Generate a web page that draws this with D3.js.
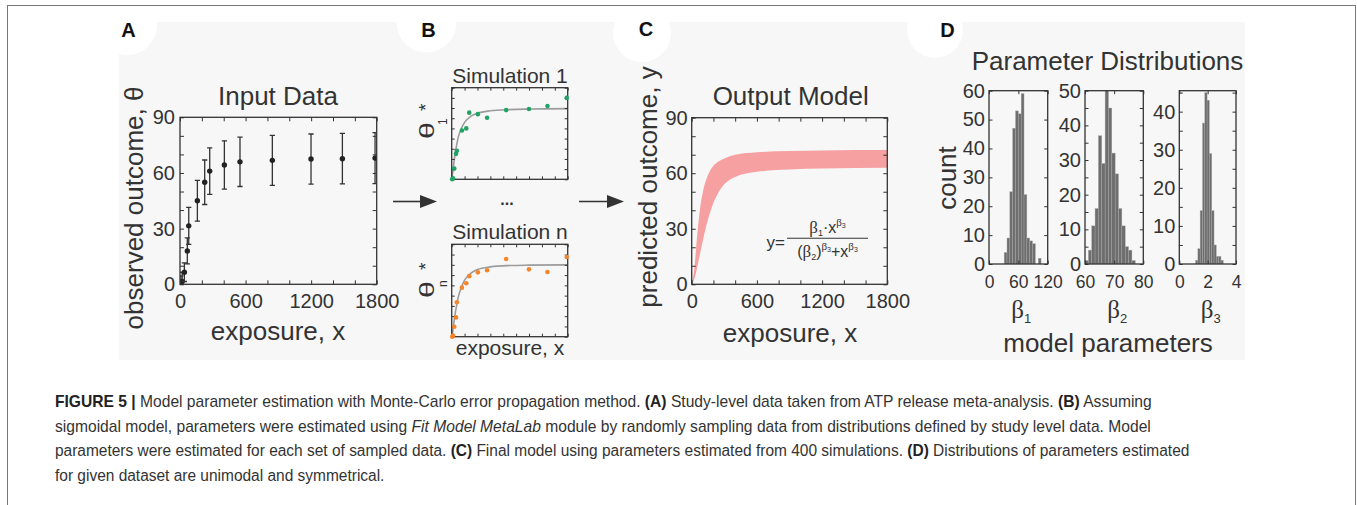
<!DOCTYPE html>
<html><head><meta charset="utf-8">
<script src="https://cdn.jsdelivr.net/npm/d3@7"></script>
<style>
html,body{margin:0;padding:0;background:#fff;}
svg{display:block;}
text{font-family:"Liberation Sans",Arial,Helvetica,sans-serif;fill:#333;}
</style></head><body>
<svg id="fig" width="1357" height="505"></svg>
<script>
// ---------------- data ----------------
const exposure = [8, 20, 40, 67, 80, 159, 226, 272, 406, 549, 845, 1199, 1486, 1785];
const observed = [0.5, 1.5, 6.5, 18, 31.5, 45, 55, 61, 64.3, 66, 66.8, 67.5, 67.7, 68];
const observedErr = [4, 5, 5, 7, 10, 11, 12, 12.5, 13, 13.3, 13.5, 13.5, 13.6, 13.7];

const sim1 = [0, 1, 10.5, 25, 28, 48, 50, 65.5, 64, 60.5, 68, 69, 72, 80];
const simN = [0, 1, 9.7, 18.8, 33.5, 47.8, 52, 59, 62.7, 64.7, 75.7, 65.6, 63, 77.7];

const fitX = [0, 15, 30, 50, 75, 100, 150, 200, 300, 400, 600, 900, 1200, 1800];
const fit1 = [0, 6, 14, 24, 33, 41, 50, 56, 62, 65, 67.3, 68.5, 69, 69.4];
const fitN = [0, 5, 12, 21, 30, 38, 48, 55, 62, 65.5, 68, 69.3, 69.7, 70];

const bandX = [0, 25, 50, 75, 100, 150, 200, 250, 300, 400, 600, 900, 1200, 1800];
const bandUpper = [0, 9, 26, 40, 49, 59, 64, 66.5, 68, 70, 71.3, 72, 72.3, 72.5];
const bandLower = [0, 3, 9, 16, 23, 35, 44, 50, 54, 58, 60.8, 62, 62.5, 63];

const binEdges1 = [31, 36.8, 42.6, 48.4, 54.2, 60, 65.8, 71.6, 77.4, 83.2, 89, 94.8, 100.6, 106.4];
const counts1 = [4, 9, 25, 47, 53, 52, 59, 24, 9, 8, 7, 0, 2];
const binEdges2 = [60, 61.15, 62.3, 63.45, 64.6, 65.75, 66.9, 68.05, 69.2, 70.35, 71.5, 72.65, 73.8, 74.95, 76.1, 77.25];
const counts2 = [1, 4, 11, 16, 37, 29, 50, 45, 32, 26, 16, 11, 5, 4, 1];
const binEdges3 = [1.15, 1.31, 1.47, 1.64, 1.8, 1.96, 2.12, 2.29, 2.45, 2.61, 2.77, 2.94, 3.1];
const counts3 = [1, 4, 14, 37, 45, 43, 29, 14, 5, 2, 2, 1];

const ticksExposure = [0, 200, 400, 600, 800, 1000, 1200, 1400, 1600, 1800];
const ticksOutcome = [0, 10, 20, 30, 40, 50, 60, 70, 80, 90];

const captionLines = [
  [["FIGURE 5 | ", "b"], ["Model parameter estimation with Monte-Carlo error propagation method. ", ""], ["(A)", "b"], [" Study-level data taken from ATP release meta-analysis. ", ""], ["(B)", "b"], [" Assuming", ""]],
  [["sigmoidal model, parameters were estimated using ", ""], ["Fit Model MetaLab", "i"], [" module by randomly sampling data from distributions defined by study level data. Model", ""]],
  [["parameters were estimated for each set of sampled data. ", ""], ["(C)", "b"], [" Final model using parameters estimated from 400 simulations. ", ""], ["(D)", "b"], [" Distributions of parameters estimated", ""]],
  [["for given dataset are unimodal and symmetrical.", ""]]
];

// ---------------- drawing ----------------
const INK = "#333";
const SERIF = "'Liberation Serif','Times New Roman',serif";
const svg = d3.select("#fig");

svg.append("rect").attr("x", 119).attr("y", 22).attr("width", 1126).attr("height", 338).attr("fill", "#f7f7f7");

const panelTags = [
  {t: "A", cx: 127, cy: 25, r: 30, lx: 128.5, ly: 37},
  {t: "B", cx: 426.5, cy: 22.5, r: 30, lx: 428.5, ly: 37},
  {t: "C", cx: 642, cy: 33, r: 29, lx: 646, ly: 36},
  {t: "D", cx: 935, cy: 30, r: 28, lx: 947.5, ly: 37}
];
panelTags.forEach(p => {
  svg.append("circle").attr("cx", p.cx).attr("cy", p.cy).attr("r", p.r).attr("fill", "#fff");
  svg.append("text").attr("x", p.lx).attr("y", p.ly).attr("text-anchor", "middle")
    .attr("font-size", 20).attr("font-weight", "bold").style("fill", "#111").text(p.t);
});
svg.append("rect").attr("x", 7.5).attr("y", 5.5).attr("width", 1348).attr("height", 520)
  .attr("fill", "none").attr("stroke", "#777").attr("stroke-width", 1);

function txt(x, y, s, fs, opt = {}) {
  const t = svg.append("text").attr("x", x).attr("y", y).attr("font-size", fs)
    .attr("text-anchor", opt.anchor || "middle").text(s);
  if (opt.rot) t.attr("transform", `rotate(-90,${x},${y})`);
  return t;
}

function frame(x, y, o) {
  const [x0, x1] = x.range();
  const y1 = y.range()[0], y0 = y.range()[1];
  const tk = o.tick || 4;
  const g = svg.append("g");
  const ax = (gen, tr, vals, fmt, pad, fs) => {
    const a = g.append("g").attr("transform", tr).style("color", INK)
      .call(gen.tickValues(vals).tickSizeInner(-tk).tickSizeOuter(0).tickPadding(pad).tickFormat(fmt));
    a.attr("font-size", fs || o.fs || 20);
    a.select(".domain").remove();
    a.selectAll(".tick line").attr("stroke-width", 1);
    return a;
  };
  const none = () => "";
  ax(d3.axisBottom(x), `translate(0,${y1})`, o.xt, o.xf || none, o.xpad || 9.5, o.xfs);
  ax(d3.axisTop(x), `translate(0,${y0})`, o.xt, none, 0);
  ax(d3.axisLeft(y), `translate(${x0},0)`, o.yt, o.yf || none, o.ypad || 5);
  ax(d3.axisRight(y), `translate(${x1},0)`, o.yt, none, 0);
  g.append("rect").attr("x", x0).attr("y", y0).attr("width", x1 - x0).attr("height", y1 - y0)
    .attr("fill", "none").attr("stroke", INK).attr("stroke-width", 1.3);
  return g;
}

let clipId = 0;
function clip(x, y) {
  const id = "c" + (clipId++);
  const [x0, x1] = x.range();
  svg.append("clipPath").attr("id", id).append("rect")
    .attr("x", x0).attr("y", y.range()[1]).attr("width", x1 - x0).attr("height", y.range()[0] - y.range()[1]);
  return svg.append("g").attr("clip-path", `url(#${id})`);
}

// ----- Panel A -----
const xA = d3.scaleLinear([0, 1800], [180, 376.7]);
const yA = d3.scaleLinear([0, 90], [284.3, 117.3]);
const gA = clip(xA, yA);
exposure.forEach((xv, i) => {
  const lo = yA(observed[i] - observedErr[i]), hi = yA(observed[i] + observedErr[i]), cx = xA(xv);
  gA.append("line").attr("x1", cx).attr("x2", cx).attr("y1", lo).attr("y2", hi).attr("stroke", INK).attr("stroke-width", 1.3);
  [lo, hi].forEach(yy => gA.append("line").attr("x1", cx - 2.6).attr("x2", cx + 2.6).attr("y1", yy).attr("y2", yy).attr("stroke", INK).attr("stroke-width", 1.3));
  gA.append("circle").attr("cx", cx).attr("cy", yA(observed[i])).attr("r", 2.7).attr("fill", "#222");
});
frame(xA, yA, {fs: 20, xt: ticksExposure, xf: d => d % 600 ? "" : d, yt: ticksOutcome, yf: d => d % 30 ? "" : d, xpad: 9.5, ypad: 5});
txt(278, 105, "Input Data", 26);
txt(278, 340, "exposure, x", 26);
txt(143, 208, "observed outcome, θ", 26, {rot: true});

// ----- Panel B -----
const xB = d3.scaleLinear([0, 1800], [451.7, 567.7]);
const yB1 = d3.scaleLinear([0, 90], [179.3, 87.7]);
const yB2 = d3.scaleLinear([0, 90], [336.7, 244.3]);
[[yB1, sim1, fit1, "#21a366"], [yB2, simN, fitN, "#f5842a"]].forEach(([yS, pts, fit, col]) => {
  const g = clip(xB, yS);
  g.append("path").datum(fitX.map((v, i) => [v, fit[i]]))
    .attr("d", d3.line().x(d => xB(d[0])).y(d => yS(d[1])).curve(d3.curveMonotoneX))
    .attr("fill", "none").attr("stroke", "#9c9c9c").attr("stroke-width", 1.6);
  frame(xB, yS, {tick: 3, xt: ticksExposure, yt: ticksOutcome});
  exposure.forEach((xv, i) => svg.append("circle").attr("cx", xB(xv)).attr("cy", yS(pts[i])).attr("r", 2.3).attr("fill", col));
});
txt(510, 82.7, "Simulation 1", 21);
txt(510, 239, "Simulation n", 21);
txt(510, 355, "exposure, x", 21);
txt(507, 205, "...", 16).attr("font-weight", "bold");
function thetaLabel(startY, sub, subY, starY) {
  svg.append("text").attr("transform", `translate(433.5,${startY}) rotate(-90) scale(1.45,1)`).attr("font-size", 21).text("θ");
  svg.append("text").attr("transform", `translate(432,${starY}) rotate(-90)`).attr("font-size", 19).text("*");
  svg.append("text").attr("transform", `translate(447,${subY}) rotate(-90)`).attr("font-size", 12).text(sub);
}
thetaLabel(139, "1", 125, 111);
thetaLabel(298, "n", 287, 270);

// arrows
function arrow(xs, xe, yy) {
  svg.append("line").attr("x1", xs).attr("x2", xe - 12).attr("y1", yy).attr("y2", yy).attr("stroke", INK).attr("stroke-width", 1.6);
  svg.append("path").attr("d", `M${xe - 17},${yy - 6.5}L${xe},${yy}L${xe - 17},${yy + 6.5}Z`).attr("fill", INK);
}
arrow(393, 437, 201.5);
arrow(579, 624, 201.5);

// ----- Panel C -----
const xC = d3.scaleLinear([0, 1800], [691.7, 887.3]);
const yC = d3.scaleLinear([0, 90], [284.3, 117.7]);
const gC = clip(xC, yC);
gC.append("path").datum(bandX.map((v, i) => [v, bandLower[i], bandUpper[i]]))
  .attr("d", d3.area().x(d => xC(d[0])).y0(d => yC(d[1])).y1(d => yC(d[2])).curve(d3.curveMonotoneX))
  .attr("fill", "#f6a0a2");
frame(xC, yC, {fs: 20, xt: ticksExposure, xf: d => d % 600 ? "" : d, yt: ticksOutcome, yf: d => d % 30 ? "" : d, xpad: 9.5, ypad: 4});
txt(790.7, 105, "Output Model", 26);
txt(790, 341.7, "exposure, x", 26);
txt(657, 187, "predicted outcome, y", 26, {rot: true});

function rich(x, y, segs, anchor) {
  const t = svg.append("text").attr("x", x).attr("y", y).attr("text-anchor", anchor || "middle");
  segs.forEach(s => {
    const ts = t.append("tspan").attr("font-size", s[1]).text(s[0]);
    if (s[2]) ts.style("font-family", SERIF);
    if (s[3]) ts.attr("dy", s[3]);
    if (s[4]) ts.attr("dx", s[4]);
  });
  return t;
}
txt(785, 248, "y=", 17, {anchor: "end"});
svg.append("line").attr("x1", 787).attr("x2", 868).attr("y1", 238.3).attr("y2", 238.3).attr("stroke", INK).attr("stroke-width", 1.1);
rich(827.5, 232.5, [["β", 17, true], ["1", 9, false, 3], ["·x", 16, false, -3], ["β", 11, true, -7], ["3", 7, false, 2]]);
rich(827.5, 257, [["(", 16], ["β", 17, true], ["2", 9, false, 3], [")", 16, false, -3], ["β", 11, true, -7], ["3", 7, false, 2], ["+x", 16, false, 5], ["β", 11, true, -7], ["3", 7, false, 2]]);

// ----- Panel D -----
const yTop = 90.7, yBot = 264;
const hists = [
  {x: d3.scaleLinear([0, 120], [989, 1047.7]), y: d3.scaleLinear([0, 60], [yBot, yTop]), edges: binEdges1, counts: counts1,
   xt: [0, 60, 120], yt: [0, 10, 20, 30, 40, 50, 60], yf: d => d, lab: "1"},
  {x: d3.scaleLinear([60, 80], [1085, 1143.3]), y: d3.scaleLinear([0, 50], [yBot, yTop]), edges: binEdges2, counts: counts2,
   xt: [60, 70, 80], yt: [0, 5, 10, 15, 20, 25, 30, 35, 40, 45, 50], yf: d => d % 10 ? "" : d, lab: "2"},
  {x: d3.scaleLinear([0, 4], [1179.3, 1236]), y: d3.scaleLinear([0, 45.5], [yBot, yTop]), edges: binEdges3, counts: counts3,
   xt: [0, 2, 4], yt: [0, 5, 10, 15, 20, 25, 30, 35, 40, 45], yf: d => d % 10 ? "" : d, lab: "3"}
];
hists.forEach(h => {
  const g = clip(h.x, h.y);
  h.counts.forEach((c, i) => {
    if (!c) return;
    g.append("rect").attr("x", h.x(h.edges[i])).attr("width", h.x(h.edges[i + 1]) - h.x(h.edges[i]))
      .attr("y", h.y(c)).attr("height", h.y(0) - h.y(c))
      .attr("fill", "#6e6e6e").attr("stroke", "#a8a8a8").attr("stroke-width", 0.4);
  });
  frame(h.x, h.y, {fs: 20, xfs: 17.5, tick: 3.5, xt: h.xt, xf: d => d, yt: h.yt, yf: h.yf, xpad: 11.5, ypad: 4});
  const cx = (h.x.range()[0] + h.x.range()[1]) / 2 + 3;
  rich(cx, 318, [["β", 25, true], [h.lab, 13, false, 5]]);
});
txt(1107.5, 70, "Parameter Distributions", 26);
txt(956, 178, "count", 26, {rot: true});
txt(1108, 351.5, "model parameters", 26);

// ----- Caption -----
const capY = [406.7, 431.5, 456.3, 481];
const capW = [1097.7, 1097, 1135, null];
let lastScale = 0.87;
captionLines.forEach((line, li) => {
  const t = svg.append("text").attr("font-size", 16).attr("transform", `translate(55,${capY[li]})`).style("fill", "#333");
  line.forEach(([s, st]) => {
    const ts = t.append("tspan").text(s);
    if (st === "b") ts.attr("font-weight", "bold").style("fill", "#222");
    if (st === "i") ts.attr("font-style", "italic");
  });
  const w = t.node().getComputedTextLength();
  const sc = capW[li] ? capW[li] / w : lastScale;
  lastScale = sc;
  t.attr("transform", `translate(55,${capY[li]}) scale(${sc},1)`);
});
</script>
</body></html>
